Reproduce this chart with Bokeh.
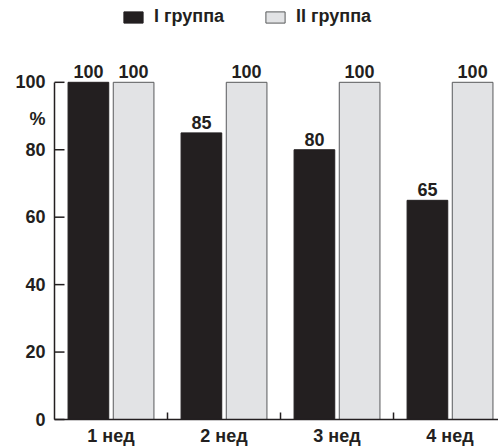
import numpy as np
from bokeh.plotting import figure
from bokeh.models import (Range1d, FixedTicker, Legend, LegendItem, ColumnDataSource)
from bokeh.core.properties import value
from bokeh.embed import file_html
from bokeh.resources import INLINE

# ---- data ----
categories = ["1 нед", "2 нед", "3 нед", "4 нед"]
series_names = ["I группа", "II группа"]
group1 = [100, 85, 80, 65]
group2 = [100, 100, 100, 100]
y_ticks = [0, 20, 40, 60, 80, 100]
y_unit = "%"
y_unit_pos = 89.0

FONT = "Liberation Sans"
INK = "#231f20"
GRAY = "#e2e3e5"
GRAY_LINE = "#58595b"
FS = "18px"

centers = np.arange(len(categories)) + 0.5
boundaries = np.arange(1, len(categories))
off = 0.2
bw = 0.36

p = figure(width=498, height=448, output_backend="svg", toolbar_location=None,
           x_range=Range1d(0, 3.929), y_range=Range1d(0, 124.26),
           min_border_left=54, min_border_right=0, min_border_top=0,
           min_border_bottom=28)
p.outline_line_color = None
p.xgrid.visible = False
p.ygrid.visible = False
p.background_fill_color = "white"
p.border_fill_color = "white"

s1 = ColumnDataSource(dict(x=centers - off, top=group1, lab=[str(v) for v in group1]))
s2 = ColumnDataSource(dict(x=centers + off, top=group2, lab=[str(v) for v in group2]))

r1 = p.vbar(x="x", top="top", width=bw, source=s1, fill_color=INK, line_color=INK)
r2 = p.vbar(x="x", top="top", width=bw, source=s2, fill_color=GRAY, line_color=GRAY_LINE, line_width=1)

for s in (s1, s2):
    p.text(x="x", y="top", text="lab", source=s, text_align="center", text_baseline="bottom",
           y_offset=-4, text_font=value(FONT), text_font_style="bold", text_font_size=FS,
           text_color=INK)

# inward tick marks (drawn as short rays from the axes)
p.ray(x=0, y=y_ticks, length=10, length_units="screen", angle=0,
      line_color=INK, line_width=1.5, level="overlay")
p.ray(x=boundaries, y=0, length=7, length_units="screen", angle=np.pi / 2,
      line_color=INK, line_width=1.5, level="overlay")

# y axis: labels (incl. unit)
ya = p.yaxis[0]
ya.ticker = FixedTicker(ticks=y_ticks + [y_unit_pos], minor_ticks=[])
ya.major_label_overrides = {y_unit_pos: y_unit}
ya.bounds = (0, 100)
ya.major_tick_in = 0
ya.major_tick_out = 0
ya.minor_tick_in = 0
ya.minor_tick_out = 0
ya.axis_line_color = INK
ya.axis_line_width = 1.5
ya.major_label_standoff = 9
ya.major_label_text_font = FONT
ya.major_label_text_font_style = "bold"
ya.major_label_text_font_size = FS
ya.major_label_text_color = INK

# x axis
xa = p.xaxis[0]
xa.ticker = FixedTicker(ticks=list(centers), minor_ticks=[])
xa.major_label_overrides = {float(c): cat for c, cat in zip(centers, categories)}
xa.major_tick_in = 0
xa.major_tick_out = 0
xa.minor_tick_in = 0
xa.minor_tick_out = 0
xa.axis_line_color = INK
xa.axis_line_width = 1.5
xa.major_label_standoff = 6
xa.major_label_text_font = FONT
xa.major_label_text_font_style = "bold"
xa.major_label_text_font_size = FS
xa.major_label_text_color = INK

legend = Legend(items=[LegendItem(label=series_names[0], renderers=[r1]),
                       LegendItem(label=series_names[1], renderers=[r2])],
                orientation="horizontal", location=(67, 392),
                glyph_width=24, glyph_height=14, label_height=14, label_standoff=9,
                spacing=39, padding=0, margin=0, border_line_color=None,
                background_fill_alpha=0,
                label_text_font=FONT, label_text_font_style="bold",
                label_text_font_size=FS, label_text_color=INK)
p.add_layout(legend, "center")

open("out.html", "w").write(file_html(p, INLINE))
